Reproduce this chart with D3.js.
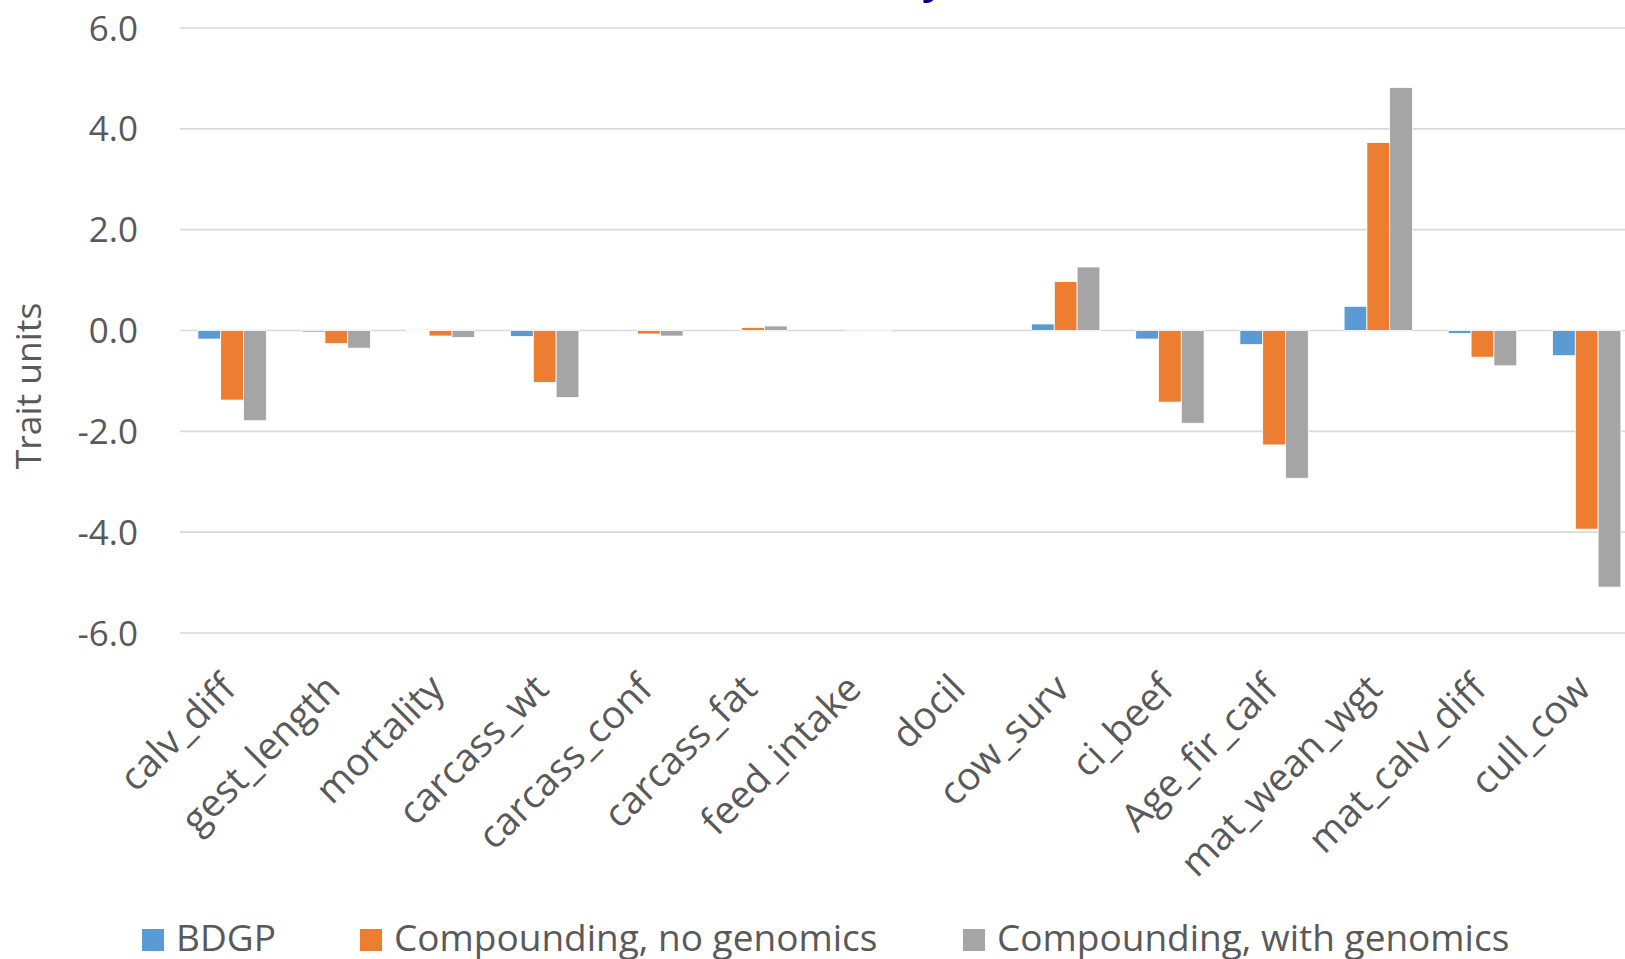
<!DOCTYPE html>
<html>
<head>
<meta charset="utf-8">
<script src="https://cdn.jsdelivr.net/npm/d3@7"></script>
<style>
  html, body { margin: 0; padding: 0; background: #fff; overflow: hidden; }
  svg { display: block; font-family: 'Open Sans', sans-serif; }
</style>
</head>
<body>
<div id="chart"></div>
<script>
// traits along the x axis
const traits = ['calv_diff', 'gest_length', 'mortality', 'carcass_wt', 'carcass_conf', 'carcass_fat',
  'feed_intake', 'docil', 'cow_surv', 'ci_beef', 'Age_fir_calf', 'mat_wean_wgt', 'mat_calv_diff', 'cull_cow'];

const seriesNames = ['BDGP', 'Compounding, no genomics', 'Compounding, with genomics'];

// values (trait units)
const bdgp =        [-0.17, -0.03, -0.01, -0.12, 0.00, 0.00, 0.00, 0.00, 0.13, -0.17, -0.28, 0.48, -0.06, -0.50];
const compNoGen =   [-1.38, -0.26, -0.11, -1.03, -0.07, 0.06, 0.01, 0.00, 0.97, -1.42, -2.27, 3.73, -0.53, -3.94];
const compWithGen = [-1.79, -0.35, -0.14, -1.33, -0.11, 0.09, 0.02, 0.00, 1.26, -1.84, -2.93, 4.82, -0.70, -5.09];

const yTicks = [-6, -4, -2, 0, 2, 4, 6];

const COLORS = ['#5B9BD5', '#ED7D31', '#A5A5A5'];

const W = 1625, H = 959;
const svg = d3.select('#chart').append('svg')
  .attr('width', W)
  .attr('height', H)
  .attr('viewBox', `0 0 ${W} ${H}`);

// plot runs past the right edge (the source picture is cropped there)
const band = 104.2;
const x0 = d3.scaleBand()
  .domain(traits)
  .range([180, 180 + band * traits.length])
  .padding(0);

const x1 = d3.scaleBand()
  .domain(seriesNames)
  .range([17.9, band - 17.9])
  .padding(0);

const y = d3.scaleLinear()
  .domain([-6, 6])
  .range([633, 28]);

// cut-off title fragment at the very top
svg.append('text')
  .attr('x', 922)
  .attr('y', -6)
  .attr('fill', '#00007F')
  .style('font-size', '40px')
  .style('font-weight', 'bold')
  .text('y');

// gridlines
svg.append('g')
  .selectAll('line')
  .data(yTicks)
  .enter().append('line')
  .attr('x1', 180)
  .attr('x2', W)
  .attr('y1', d => y(d))
  .attr('y2', d => y(d))
  .attr('stroke', '#D9D9D9')
  .attr('stroke-width', 1.6);

// y tick labels
svg.append('g')
  .selectAll('text')
  .data(yTicks)
  .enter().append('text')
  .attr('x', 138)
  .attr('y', d => y(d))
  .attr('dy', '0.36em')
  .attr('text-anchor', 'end')
  .attr('fill', '#595959')
  .style('font-size', '35px')
  .text(d => d.toFixed(1));

// y axis title
svg.append('text')
  .attr('transform', `translate(41,386) rotate(-90)`)
  .attr('text-anchor', 'middle')
  .attr('fill', '#595959')
  .style('font-size', '35.5px')
  .text('Trait units');

// bars
const allSeries = [bdgp, compNoGen, compWithGen];
const rows = traits.map((t, i) => ({ t, vals: seriesNames.map((s, k) => ({ s, k, v: allSeries[k][i] })) }));

const groups = svg.append('g')
  .selectAll('g')
  .data(rows)
  .enter().append('g')
  .attr('transform', d => `translate(${x0(d.t)},0)`);

groups.selectAll('rect')
  .data(d => d.vals)
  .enter().append('rect')
  .attr('x', d => x1(d.s))
  .attr('width', x1.bandwidth())
  .attr('y', d => y(Math.max(0, d.v)))
  .attr('height', d => Math.abs(y(d.v) - y(0)))
  .attr('fill', d => COLORS[d.k])
  .attr('stroke', '#fff')
  .attr('stroke-width', 0.8);

// x category labels, rotated
svg.append('g')
  .selectAll('text')
  .data(traits)
  .enter().append('text')
  .attr('transform', d => `translate(${x0(d) + band / 2 + 6},691) rotate(-45)`)
  .attr('text-anchor', 'end')
  .attr('fill', '#595959')
  .style('font-size', '38.5px')
  .text(d => d);

// legend
const legendX = [142, 360, 963];
const leg = svg.append('g')
  .selectAll('g')
  .data(seriesNames)
  .enter().append('g')
  .attr('transform', (d, i) => `translate(${legendX[i]},929)`);

leg.append('rect')
  .attr('width', 22)
  .attr('height', 22)
  .attr('fill', (d, i) => COLORS[i]);

leg.append('text')
  .attr('x', 34)
  .attr('y', 22)
  .attr('fill', '#595959')
  .style('font-size', '37px')
  .text(d => d);
</script>
</body>
</html>
